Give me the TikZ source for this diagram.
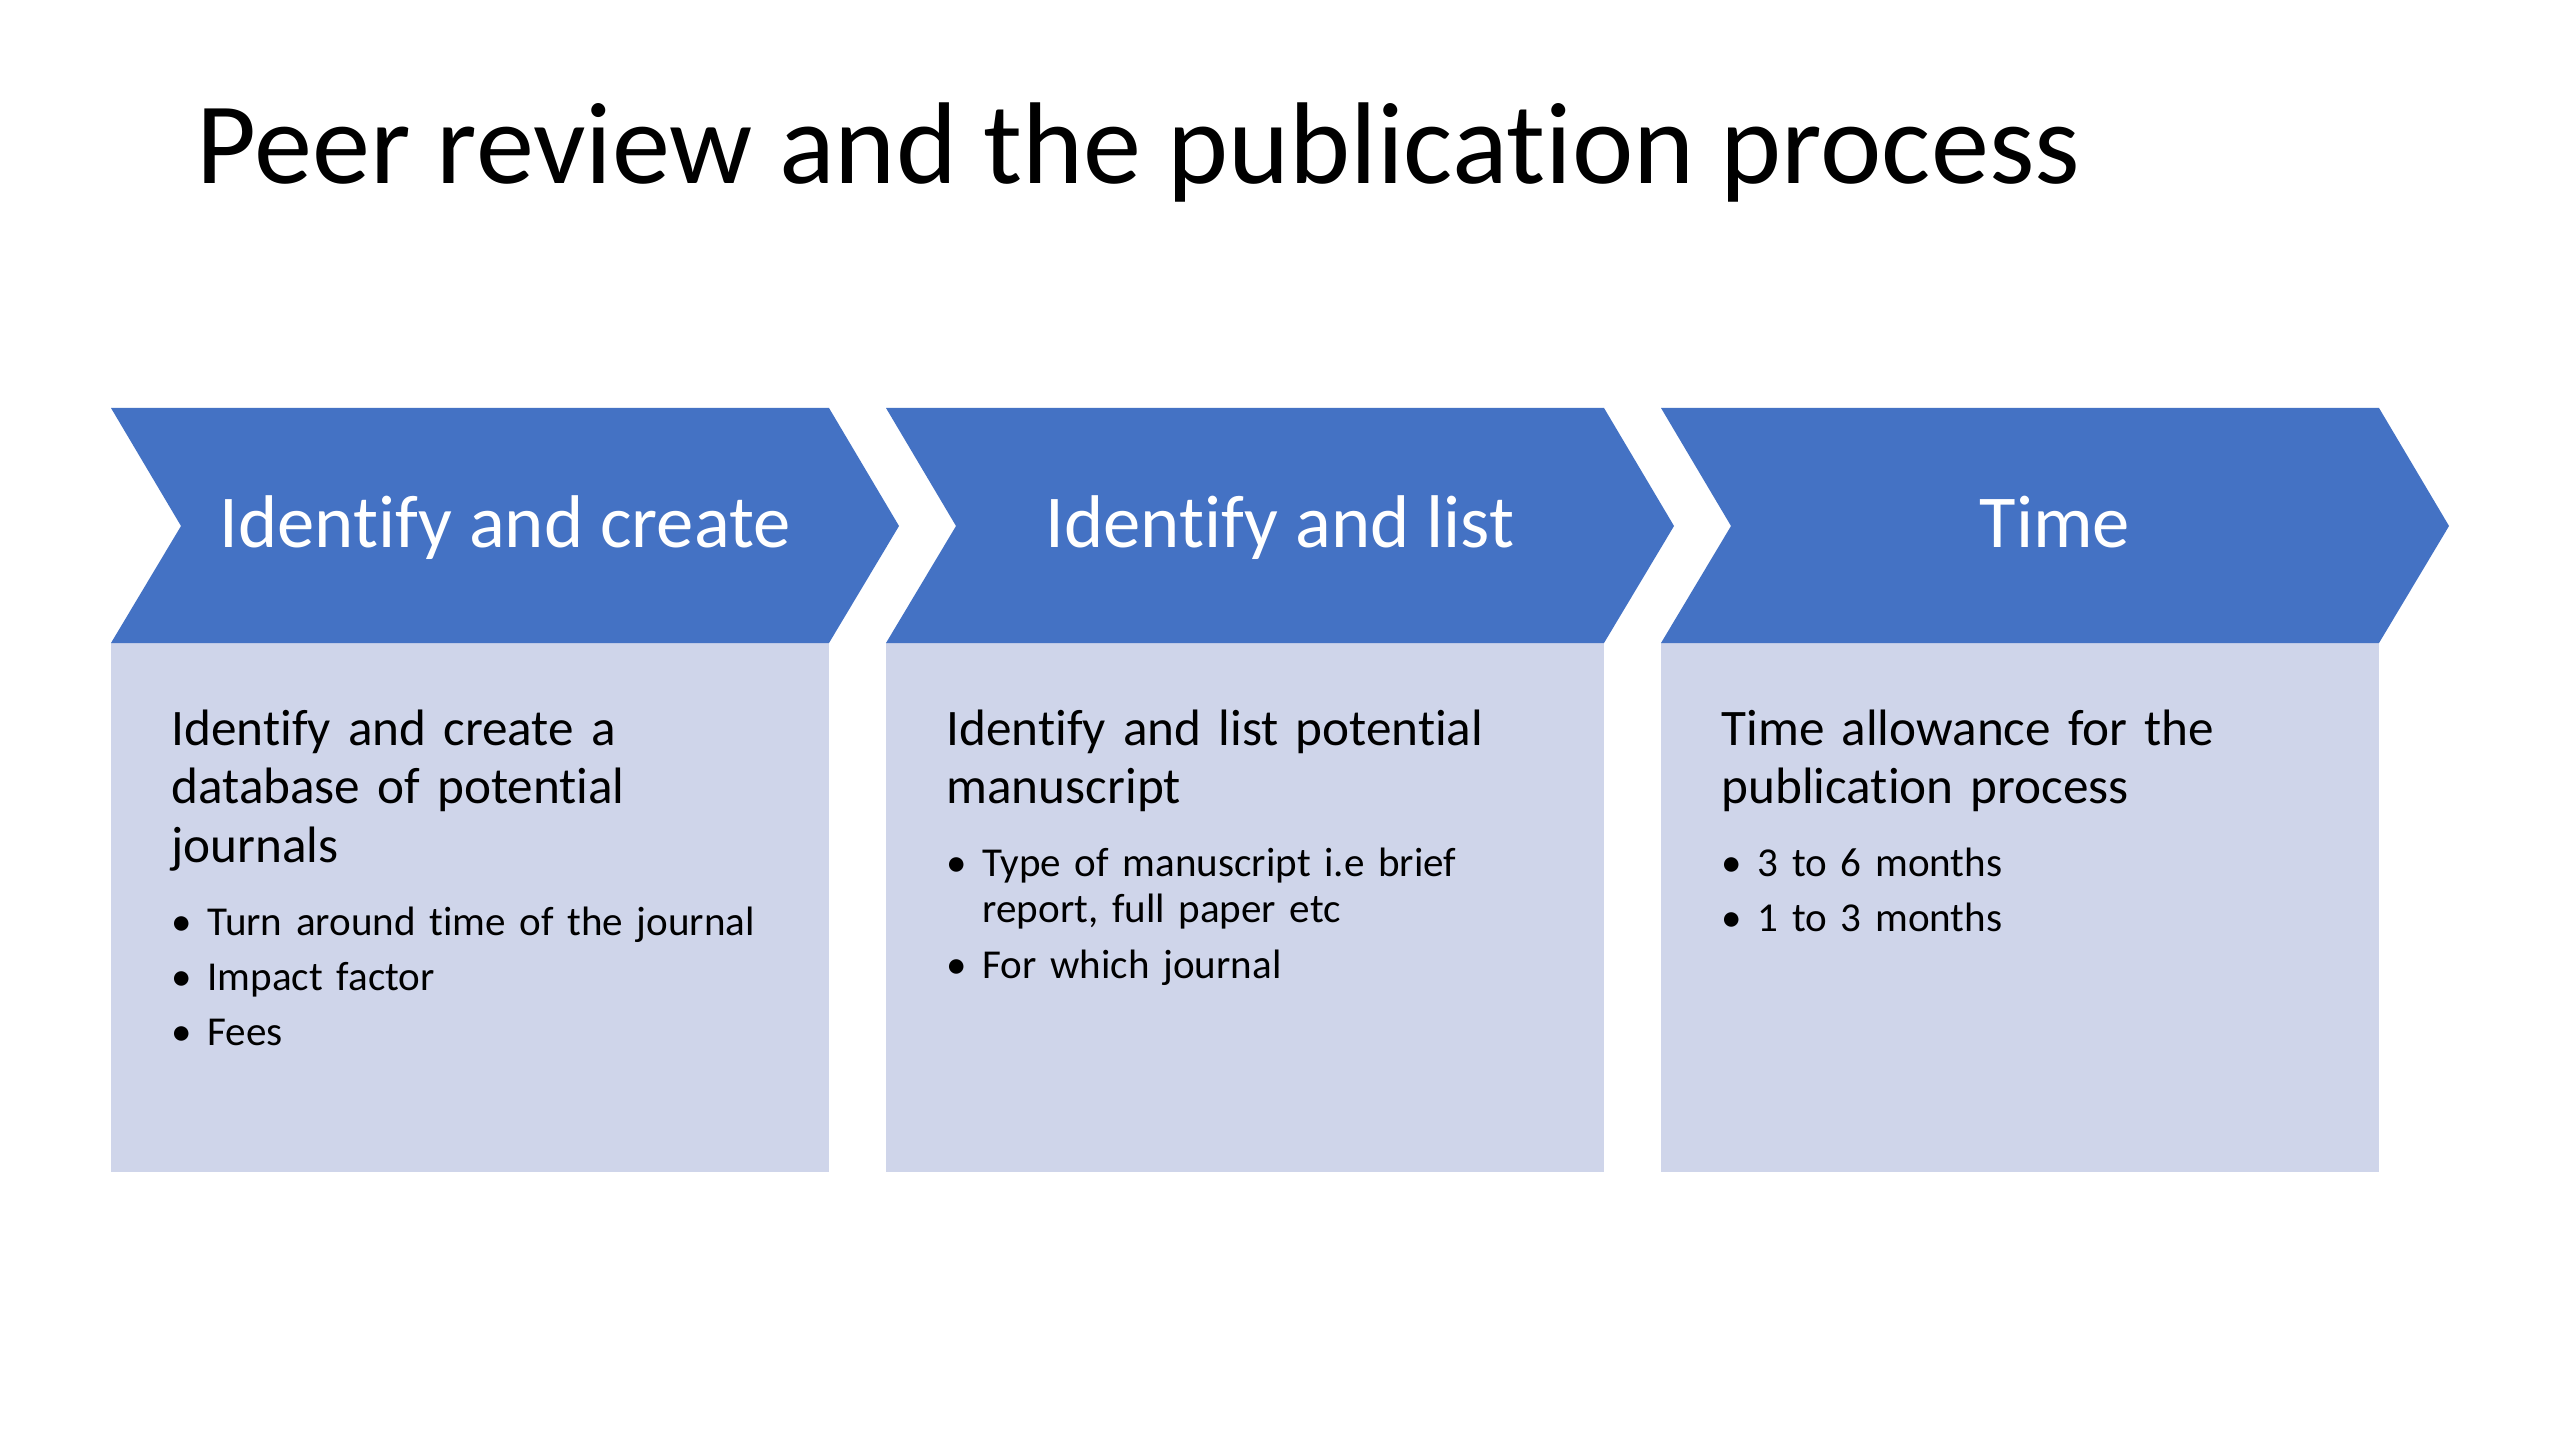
\documentclass[tikz,border=0pt]{standalone}
\usepackage{fontspec}
\setmainfont{Carlito}[Ligatures={NoCommon}]
\definecolor{chev}{HTML}{4472C4}
\definecolor{bodyfill}{HTML}{CFD5EA}
\tikzset{
  chevshape/.style={fill=chev, draw=none},
  bodybox/.style={fill=bodyfill, draw=none},
  headlabel/.style={text=white, font=\fontsize{28}{33}\selectfont, anchor=base, inner sep=0},
  bodyhead/.style={anchor=base west, inner sep=0, text width=320pt, align=left, font=\fontsize{19.2}{22}\selectfont},
  bodylist/.style={anchor=base west, inner sep=0, text width=320pt, align=left, font=\fontsize{15.4}{17.6}\selectfont},
  titletext/.style={anchor=base west, inner sep=0, font=\fontsize{43.6}{50}\selectfont},
}
\newcommand\bitem[1]{\hangindent=13.5pt\hangafter=1\noindent\makebox[13.5pt][l]{•}#1\par}
\begin{document}
\begin{tikzpicture}[x=0.375pt, y=-0.375pt]
  \fill[white] (0,0) rectangle (2560,1440);
  \useasboundingbox (0,0) rectangle (2560,1440);
  \node[titletext] (title) at (196,184) {Peer review and the publication process};
  \foreach \L/\nm/\lab in {111/c1/Identify and create, 886/c2/Identify and list, 1661/c3/Time} {
    \fill[bodybox] (\L,643) rectangle (\L+718,1172);
    \fill[chevshape] (\L,408) -- (\L+718,408) -- (\L+788,526) -- (\L+718,643) -- (\L,643) -- (\L+70,526) -- cycle;
    \node[headlabel] (\nm) at (\L+394,547) {\lab};
  }
  \node[bodyhead] (h1) at (171,745) {Identify and create a\\database of potential\\journals};
  \node[bodylist] (l1) at (171,935) {\setlength\parskip{3.2pt}\bitem{Turn around time of the journal}\bitem{Impact factor}\bitem{Fees}};
  \node[bodyhead] (h2) at (946,745) {Identify and list potential\\manuscript};
  \node[bodylist] (l2) at (946,876) {\setlength\parskip{3.2pt}\bitem{Type of manuscript i.e brief\newline report, full paper etc}\bitem{For which journal}};
  \node[bodyhead] (h3) at (1721,745) {Time allowance for the\\publication process};
  \node[bodylist] (l3) at (1721,876) {\setlength\parskip{3.2pt}\bitem{3 to 6 months}\bitem{1 to 3 months}};
\end{tikzpicture}
\end{document}
